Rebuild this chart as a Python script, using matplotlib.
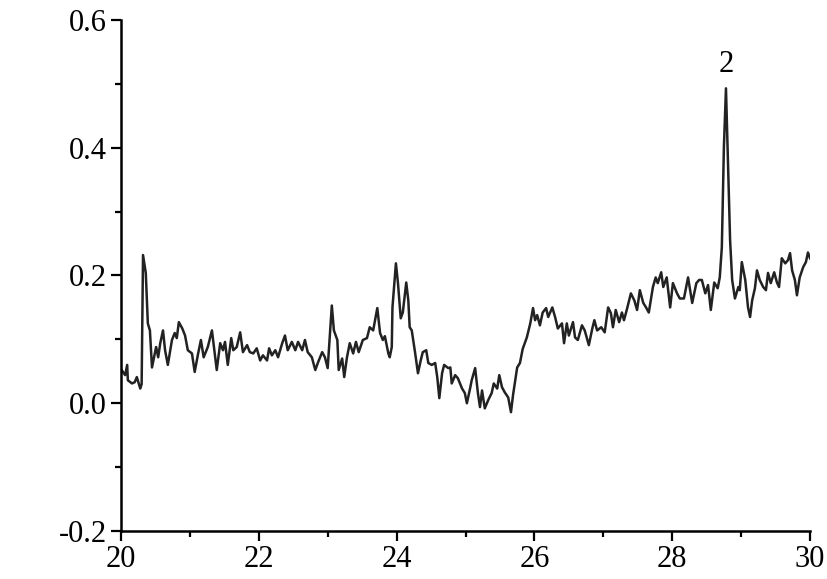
import matplotlib
matplotlib.use("Agg")
from matplotlib import pyplot as plt
from matplotlib.ticker import MultipleLocator, FormatStrFormatter

plt.rcParams['font.family'] = ['Liberation Serif', 'DejaVu Serif']
plt.rcParams['axes.unicode_minus'] = False

# Spektrum
x_werte = [
    20.01, 20.06, 20.09, 20.10, 20.16, 20.20, 20.23, 20.28, 20.30, 20.32,
    20.36, 20.39, 20.42, 20.45, 20.51, 20.54, 20.57, 20.61, 20.64, 20.68,
    20.74, 20.78, 20.81, 20.84, 20.89, 20.93, 20.97, 21.03, 21.07, 21.12,
    21.16, 21.20, 21.26, 21.32, 21.36, 21.39, 21.44, 21.48, 21.51, 21.55,
    21.60, 21.63, 21.68, 21.73, 21.77, 21.83, 21.87, 21.92, 21.97, 22.02,
    22.06, 22.12, 22.15, 22.19, 22.24, 22.28, 22.34, 22.38, 22.42, 22.48,
    22.53, 22.57, 22.63, 22.67, 22.71, 22.77, 22.82, 22.86, 22.92, 22.96,
    23.00, 23.06, 23.09, 23.14, 23.16, 23.21, 23.24, 23.28, 23.32, 23.37,
    23.41, 23.45, 23.51, 23.57, 23.61, 23.66, 23.72, 23.76, 23.80, 23.83,
    23.88, 23.90, 23.93, 23.94, 23.99, 24.02, 24.06, 24.09, 24.14, 24.17,
    24.19, 24.22, 24.27, 24.31, 24.35, 24.38, 24.43, 24.46, 24.51, 24.56,
    24.59, 24.62, 24.66, 24.69, 24.75, 24.78, 24.80, 24.85, 24.89, 24.95,
    24.99, 25.02, 25.07, 25.09, 25.14, 25.18, 25.21, 25.24, 25.28, 25.33,
    25.38, 25.41, 25.46, 25.49, 25.53, 25.57, 25.62, 25.66, 25.69, 25.75,
    25.79, 25.83, 25.89, 25.94, 25.98, 26.01, 26.04, 26.08, 26.12, 26.17,
    26.20, 26.26, 26.30, 26.34, 26.40, 26.43, 26.47, 26.50, 26.56, 26.59,
    26.63, 26.69, 26.73, 26.79, 26.84, 26.87, 26.91, 26.97, 27.02, 27.07,
    27.11, 27.14, 27.18, 27.23, 27.27, 27.30, 27.34, 27.40, 27.45, 27.49,
    27.53, 27.58, 27.62, 27.66, 27.72, 27.76, 27.79, 27.84, 27.87, 27.92,
    27.97, 28.01, 28.07, 28.11, 28.17, 28.23, 28.29, 28.35, 28.39, 28.43,
    28.48, 28.52, 28.56, 28.61, 28.66, 28.69, 28.72, 28.75, 28.78, 28.80,
    28.84, 28.87, 28.91, 28.96, 28.98, 29.01, 29.06, 29.10, 29.13, 29.16,
    29.20, 29.23, 29.27, 29.32, 29.36, 29.39, 29.43, 29.48, 29.52, 29.55,
    29.59, 29.64, 29.68, 29.71, 29.74, 29.78, 29.81, 29.85, 29.90, 29.94,
    29.97, 30.00,
]
y_werte = [
    0.052, 0.044, 0.060, 0.036, 0.031, 0.033, 0.041, 0.023, 0.030, 0.232,
    0.204, 0.125, 0.114, 0.056, 0.088, 0.072, 0.094, 0.114, 0.083, 0.060,
    0.099, 0.110, 0.102, 0.127, 0.117, 0.106, 0.083, 0.078, 0.049, 0.078,
    0.099, 0.072, 0.088, 0.114, 0.078, 0.052, 0.094, 0.083, 0.096, 0.060,
    0.102, 0.083, 0.088, 0.111, 0.080, 0.091, 0.080, 0.078, 0.086, 0.067,
    0.075, 0.067, 0.086, 0.075, 0.083, 0.072, 0.094, 0.106, 0.083, 0.096,
    0.083, 0.096, 0.083, 0.099, 0.080, 0.072, 0.052, 0.064, 0.080, 0.072,
    0.055, 0.153, 0.114, 0.099, 0.052, 0.070, 0.041, 0.072, 0.094, 0.078,
    0.096, 0.080, 0.099, 0.102, 0.119, 0.114, 0.149, 0.110, 0.099, 0.105,
    0.078, 0.072, 0.088, 0.150, 0.219, 0.188, 0.133, 0.142, 0.189, 0.161,
    0.119, 0.114, 0.078, 0.047, 0.067, 0.080, 0.083, 0.063, 0.060, 0.063,
    0.041, 0.008, 0.047, 0.060, 0.055, 0.056, 0.031, 0.044, 0.039, 0.023,
    0.016, 0.000, 0.025, 0.036, 0.055, 0.016, -0.006, 0.020, -0.008, 0.005,
    0.016, 0.031, 0.023, 0.044, 0.025, 0.017, 0.009, -0.014, 0.013, 0.056,
    0.063, 0.085, 0.103, 0.125, 0.149, 0.130, 0.138, 0.122, 0.142, 0.149,
    0.135, 0.150, 0.135, 0.117, 0.125, 0.094, 0.125, 0.106, 0.127, 0.103,
    0.099, 0.122, 0.114, 0.091, 0.117, 0.130, 0.114, 0.119, 0.111, 0.150,
    0.141, 0.119, 0.146, 0.127, 0.142, 0.130, 0.146, 0.172, 0.161, 0.146,
    0.177, 0.157, 0.150, 0.142, 0.182, 0.197, 0.188, 0.205, 0.182, 0.197,
    0.150, 0.188, 0.172, 0.164, 0.164, 0.197, 0.157, 0.188, 0.193, 0.193,
    0.172, 0.185, 0.146, 0.189, 0.180, 0.197, 0.244, 0.401, 0.493, 0.412,
    0.255, 0.193, 0.164, 0.182, 0.177, 0.221, 0.193, 0.150, 0.135, 0.161,
    0.180, 0.208, 0.193, 0.182, 0.177, 0.204, 0.188, 0.205, 0.189, 0.182,
    0.227, 0.219, 0.224, 0.235, 0.208, 0.193, 0.169, 0.197, 0.213, 0.221,
    0.236, 0.227,
]

# Beschriftung des Peaks
peak_text = "2"
peak_x = 28.78
peak_y = 0.53

fig = plt.figure(figsize=(8.28, 5.79), dpi=100)
ax = fig.add_axes([0.1461, 0.0829, 0.8322, 0.8826])

ax.plot(x_werte, y_werte, color='#222222', linewidth=1.8)
ax.text(peak_x, peak_y, peak_text, fontsize=22, ha='center', va='center')

ax.set_xlim(20, 30)
ax.set_ylim(-0.2, 0.6)
ax.xaxis.set_major_locator(MultipleLocator(2))
ax.xaxis.set_minor_locator(MultipleLocator(1))
ax.yaxis.set_major_locator(MultipleLocator(0.2))
ax.yaxis.set_minor_locator(MultipleLocator(0.1))
ax.yaxis.set_major_formatter(FormatStrFormatter('%.1f'))

for seite in ['top', 'right']:
    ax.spines[seite].set_visible(False)
for seite in ['left', 'bottom']:
    ax.spines[seite].set_linewidth(1.8)

ax.tick_params(which='major', length=7, width=1.6, labelsize=22, direction='out', pad=3)
ax.tick_params(which='minor', length=4, width=1.6, direction='out')

fig.savefig('out.png', dpi=100)
